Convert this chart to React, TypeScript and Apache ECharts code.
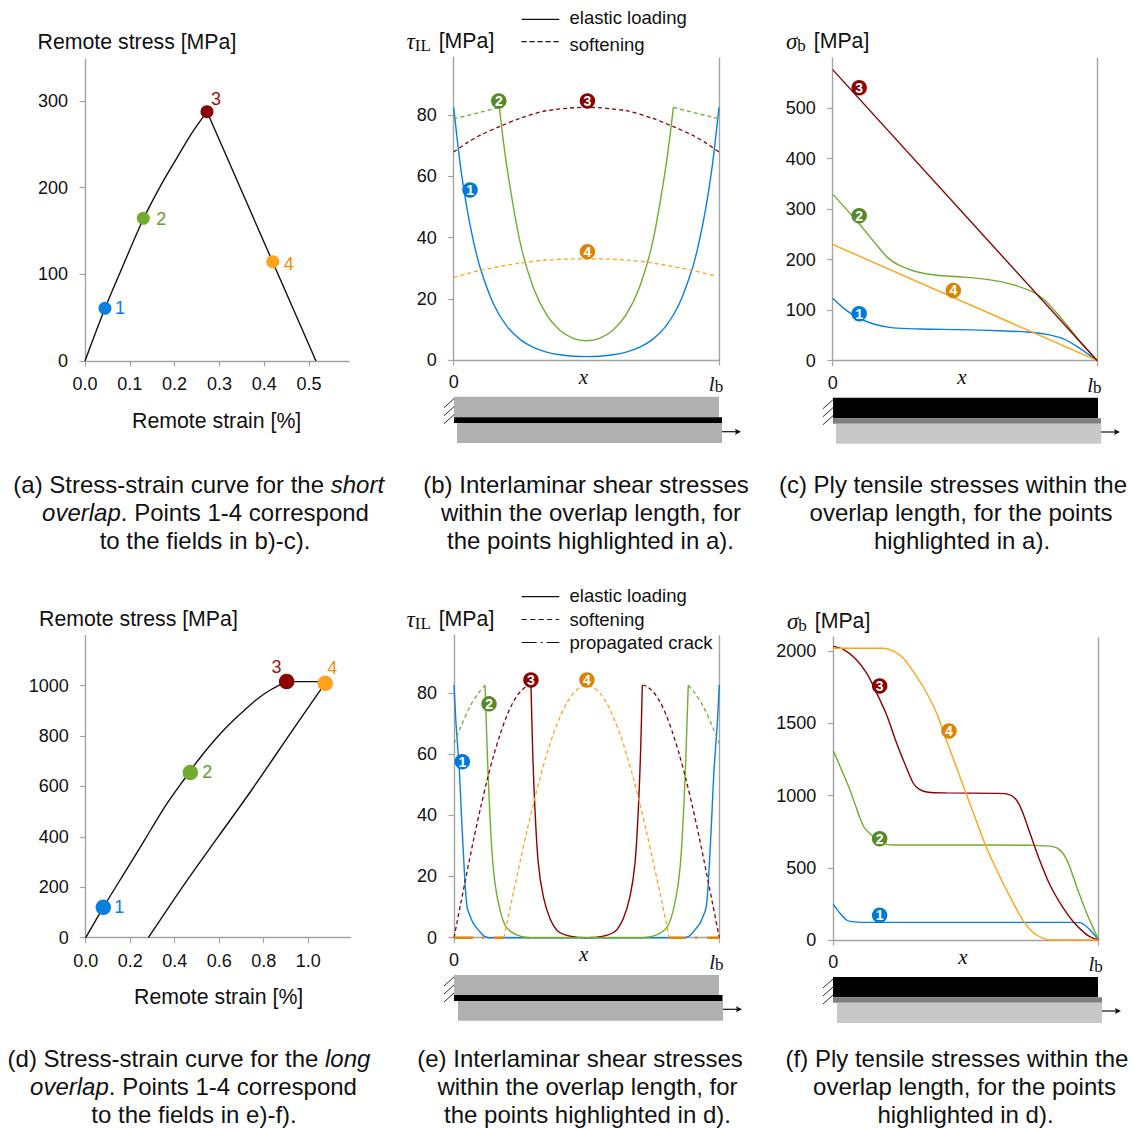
import React, { useEffect, useRef } from "react";
import * as echarts from "echarts";

const BLUE = "#0a80dc";
const GREEN = "#70ad2f";
const RED = "#8b0000";
const ORANGE = "#ffa31a";
const BADGE = ["#0078d7", "#558a26", "#8b0000", "#dc8400"];
const TEXT_COL = ["#0a80dc", "#5f9e2f", "#a01010", "#e8900c"];
const AXIS = "#a3a3a3";
const SANS = "'Liberation Sans', Arial, sans-serif";
const SERIF = "'Liberation Serif', serif";

// Panel (a)
const aUp = [[0, 0], [0.0446, 60.8], [0.0855, 110.8], [0.1302, 163.8], [0.1674, 201], [0.2046, 233.9], [0.2381, 262.7], [0.2723, 287.7]];
const aDown = [[0.2723, 287.7], [0.5156, 0]];
const aPoints = [[0.0446, 60.8], [0.1302, 164.6], [0.2723, 287.7], [0.419, 114.6]];
// Panel (d)
const dLoad = [[0, 0], [0.0792, 120.6], [0.1916, 281.8], [0.2664, 390], [0.3562, 520], [0.446, 632.4], [0.506, 705], [0.5957, 800], [0.6855, 880], [0.7754, 950], [0.8354, 985.6], [0.9028, 1016]];
const dFlat = [[0.9028, 1016], [1.0765, 1016]];
const dUnload = [[0.2813, 0], [0.4462, 215.8], [0.5957, 400.8], [0.7457, 586], [0.9253, 817.6], [1.0449, 970], [1.0765, 1009]];
const dPoints = [[0.0792, 120.6], [0.47, 655], [0.9028, 1016], [1.0765, 1009]];

// Panel (b)
const b1 = [[0, 82.6], [0.025, 63.7], [0.05, 49.6], [0.075, 38.6], [0.1, 30.1], [0.15, 18.3], [0.2, 11.1], [0.25, 6.75], [0.3, 4.14], [0.35, 2.59], [0.4, 1.7], [0.45, 1.24], [0.5, 1.1], [0.55, 1.24], [0.6, 1.7], [0.65, 2.59], [0.7, 4.14], [0.75, 6.75], [0.8, 11.1], [0.85, 18.3], [0.9, 30.1], [0.925, 38.6], [0.95, 49.6], [0.975, 63.7], [1, 82.6]];
const b2Solid = [[0.172, 82.6], [0.2, 63.4], [0.25, 38.6], [0.3, 23.7], [0.35, 14.8], [0.4, 9.7], [0.45, 7.1], [0.5, 6.3], [0.55, 7.1], [0.6, 9.7], [0.65, 14.8], [0.7, 23.7], [0.75, 38.6], [0.8, 63.4], [0.828, 82.6]];
const b2DashL = [[0, 78.8], [0.172, 82.6]];
const b2DashR = [[0.828, 82.6], [1, 78.8]];
const b3 = [[0, 68], [0.05, 71], [0.1, 73.5], [0.172, 76.3], [0.25, 79], [0.35, 81.5], [0.5, 82.6], [0.65, 81.5], [0.75, 79], [0.828, 76.3], [0.9, 73.5], [0.95, 71], [1, 68]];
const b4 = [[0, 27], [0.1, 29.3], [0.25, 31.7], [0.35, 32.7], [0.5, 33.1], [0.65, 32.7], [0.75, 31.7], [0.9, 29.3], [0.985, 27.5]];
const bBadges = [[0.0616, 55.6], [0.17, 84.7], [0.504, 84.7], [0.504, 35.4]];

// Panel (c)
const c1 = [[0, 123.5], [0.053, 99], [0.1, 84], [0.154, 72.7], [0.229, 65], [0.33, 62.7], [0.481, 61.4], [0.632, 59.4], [0.733, 56.8], [0.809, 52], [0.872, 43], [0.935, 24], [1, 0]];
const c2 = [[0, 329.6], [0.1, 271], [0.166, 229], [0.21, 203], [0.254, 188], [0.317, 176], [0.393, 169], [0.481, 166], [0.582, 161], [0.67, 152], [0.752, 137], [0.796, 122], [0.859, 87], [0.935, 38], [1, 0]];
const c3 = [[0, 576], [1, 0]];
const c4 = [[0, 230], [1, 0]];
const cBadges = [[0.1, 93], [0.1, 287], [0.1, 540], [0.456, 139]];

// Panel (e)
const e1 = [[0, 82.6], [0.0075, 70], [0.0201, 54.8], [0.0289, 38.5], [0.0415, 17.8], [0.0503, 9.6], [0.0729, 4.7], [0.1105, 0.7], [0.13, 0], [0.87, 0], [0.8895, 0.7], [0.9271, 4.7], [0.9497, 9.6], [0.9585, 17.8], [0.9711, 38.5], [0.9799, 54.8], [0.9925, 70], [1, 82.6]];
const e2Solid = [[0.1169, 82.5], [0.1231, 66.8], [0.1294, 51.5], [0.1419, 29.7], [0.1545, 17.8], [0.1734, 9], [0.196, 3.6], [0.236, 0.9], [0.2865, 0], [0.7135, 0], [0.764, 0.9], [0.804, 3.6], [0.8266, 9], [0.8455, 17.8], [0.8581, 29.7], [0.8706, 51.5], [0.8769, 66.8], [0.8831, 82.5]];
const e2DashL = [[0, 63.5], [0.023, 68.4], [0.06, 75.5], [0.092, 79.9], [0.1169, 82.5]];
const e2DashR = [[0.8831, 82.5], [0.908, 79.9], [0.94, 75.5], [0.977, 68.4], [1, 63.5]];
const e3DashL = [[0, 0], [0.025, 11], [0.05, 21.9], [0.075, 32.5], [0.1, 42.4], [0.125, 51.5], [0.15, 59.7], [0.175, 66.7], [0.2, 72.7], [0.225, 77.3], [0.25, 80.4], [0.275, 82.2], [0.2902, 82.5]];
const e3Solid = [[0.2902, 82.5], [0.2965, 61.3], [0.3053, 41.7], [0.3178, 24.3], [0.3367, 13.4], [0.3618, 6.3], [0.3932, 2], [0.4372, 0.5], [0.5, 0], [0.5628, 0.5], [0.6068, 2], [0.6382, 6.3], [0.6633, 13.4], [0.6822, 24.3], [0.6947, 41.7], [0.7035, 61.3], [0.7098, 82.5]];
const e3DashR = [[0.7098, 82.5], [0.725, 82.2], [0.75, 80.4], [0.775, 77.3], [0.8, 72.7], [0.825, 66.7], [0.85, 59.7], [0.875, 51.5], [0.9, 42.4], [0.925, 32.5], [0.95, 21.9], [0.975, 11], [1, 0]];
const e4Dash = [[0.1884, 0], [0.2, 4.9], [0.225, 15.2], [0.25, 25.2], [0.275, 34.9], [0.3, 44], [0.325, 52.4], [0.35, 60], [0.375, 66.7], [0.4, 72.2], [0.425, 76.7], [0.45, 79.9], [0.475, 81.8], [0.5, 82.5], [0.525, 81.8], [0.55, 79.9], [0.575, 76.7], [0.6, 72.2], [0.625, 66.7], [0.65, 60], [0.675, 52.4], [0.7, 44], [0.725, 34.9], [0.75, 25.2], [0.775, 15.2], [0.8, 4.9], [0.8116, 0]];
const e4CrackL = [[0, 0], [0.1884, 0]];
const e4CrackR = [[1, 0], [0.8116, 0]];
const eBadges = [[0.0314, 57.5], [0.132, 76.4], [0.29, 84.2], [0.501, 84.2]];

// Panel (f)
const f1 = [[0, 247], [0.025, 185], [0.05, 138.6], [0.0692, 127], [0.1132, 122], [0.5, 122], [0.892, 122], [0.9296, 120], [0.9548, 92], [0.9737, 57.6], [1, 0]];
const f2 = [[0, 1310], [0.0629, 1039.5], [0.1132, 790], [0.151, 716], [0.1885, 670], [0.226, 658], [0.5, 658], [0.741, 656], [0.829, 646.6], [0.8605, 612], [0.8857, 531], [0.917, 369], [0.9548, 185], [1, 0]];
const f3 = [[0, 2034], [0.0377, 2014], [0.0818, 1952], [0.1257, 1848], [0.1634, 1710], [0.201, 1559], [0.2388, 1363], [0.2764, 1190], [0.3016, 1086], [0.324, 1044], [0.358, 1023.5], [0.4272, 1019], [0.6156, 1016], [0.653, 1012], [0.6846, 982], [0.7098, 901], [0.7412, 739], [0.7725, 577], [0.8165, 381], [0.8667, 220], [0.9043, 127], [0.9484, 46], [0.9735, 16], [1, 0]];
const f4 = [[0, 2021], [0.1884, 2021], [0.226, 2003], [0.2639, 1952], [0.3016, 1859], [0.3456, 1732], [0.3895, 1571], [0.4209, 1409], [0.4585, 1224], [0.4962, 1035], [0.5339, 850], [0.5715, 665], [0.6155, 485], [0.6657, 300], [0.7135, 140], [0.7537, 50], [0.7913, 11.6], [0.823, 0], [1, 0]];
const fBadges = [[0.1746, 171], [0.1746, 702], [0.1746, 1760], [0.436, 1448]];

const aXTicks = [0, 0.1, 0.2, 0.3, 0.4, 0.5];
const aYTicks = [0, 100, 200, 300];
const dXTicks = [0, 0.2, 0.4, 0.6, 0.8, 1.0];
const dYTicks = [0, 200, 400, 600, 800, 1000];
const shearTicks = [0, 20, 40, 60, 80];
const cYTicks = [0, 100, 200, 300, 400, 500];
const fYTicks = [0, 500, 1000, 1500, 2000];

const captionLines = [
  { x: 198.7, y: 484.4, t: "(a) Stress-strain curve for the {i|short}" },
  { x: 205.5, y: 512.7, t: "{i|overlap}. Points 1-4 correspond" },
  { x: 205, y: 540, t: "to the fields in b)-c)." },
  { x: 586, y: 484.4, t: "(b) Interlaminar shear stresses" },
  { x: 591, y: 512.7, t: "within the overlap length, for" },
  { x: 590.5, y: 540, t: "the points highlighted in a)." },
  { x: 953, y: 484.4, t: "(c) Ply tensile stresses within the" },
  { x: 961, y: 512.7, t: "overlap length, for the points" },
  { x: 962, y: 540, t: "highlighted in a)." },
  { x: 189, y: 1058.4, t: "(d) Stress-strain curve for the {i|long}" },
  { x: 193.5, y: 1086.7, t: "{i|overlap}. Points 1-4 correspond" },
  { x: 194, y: 1114, t: "to the fields in e)-f)." },
  { x: 580, y: 1058.4, t: "(e) Interlaminar shear stresses" },
  { x: 587.5, y: 1086.7, t: "within the overlap length, for" },
  { x: 587.5, y: 1114, t: "the points highlighted in d)." },
  { x: 957, y: 1058.4, t: "(f) Ply tensile stresses within the" },
  { x: 964.5, y: 1086.7, t: "overlap length, for the points" },
  { x: 965.5, y: 1114, t: "highlighted in d)." },
];

const grids = [
  { left: 85, top: 59, width: 264, height: 302 },
  { left: 453.7, top: 57.5, width: 265.3, height: 302.5 },
  { left: 832.7, top: 58, width: 264.6, height: 302.7 },
  { left: 85.7, top: 635.7, width: 264.6, height: 302 },
  { left: 454, top: 635.3, width: 265.3, height: 302.4 },
  { left: 833.3, top: 637.3, width: 265.4, height: 302.7 },
];

const axisLine = { show: true, lineStyle: { color: AXIS, width: 1.4 } };
const tick = { show: true, length: 5.5, inside: false, lineStyle: { color: AXIS, width: 1.2 } };

function strainAxis(i: number, max: number, ticks: number[], interval: number) {
  return {
    type: "value", gridIndex: i, min: 0, max, interval,
    axisLine: { ...axisLine, onZero: false }, splitLine: { show: false },
    axisTick: { ...tick, customValues: ticks },
    axisLabel: { customValues: ticks, margin: 14, fontSize: 18, fontFamily: SANS, color: "#111", formatter: (v: number) => v.toFixed(1) },
  };
}
function fieldAxis(i: number) {
  return {
    type: "value", gridIndex: i, min: 0, max: 1, interval: 1,
    name: "x", nameLocation: "middle", nameGap: 6, nameMoveOverlap: false,
    nameTextStyle: { fontFamily: SERIF, fontStyle: "italic", fontSize: 21, color: "#111", padding: [0, 6, 0, 0] },
    axisLine: { ...axisLine, onZero: false },
    axisTick: tick,
    splitLine: { show: true, showMinLine: false, lineStyle: { color: AXIS, width: 1.4 } },
    axisLabel: {
      margin: 13, fontSize: 18, fontFamily: SANS, color: "#111", hideOverlap: false,
      formatter: (v: number) => (v === 0 ? "0" : "{l|l}{b|b}"),
      rich: {
        l: { fontFamily: SERIF, fontStyle: "italic", fontSize: 21, color: "#111" },
        b: { fontFamily: SERIF, fontSize: 17, color: "#111", padding: [5, 6, 0, 0] },
      },
    },
  };
}
function yAx(i: number, max: number, ticks: number[], interval: number) {
  return {
    type: "value", gridIndex: i, min: 0, max, interval,
    axisLine: { ...axisLine, onZero: false }, splitLine: { show: false },
    axisTick: { ...tick, customValues: ticks },
    axisLabel: { customValues: ticks, margin: 17, fontSize: 18, fontFamily: SANS, color: "#111", formatter: (v: number) => String(v) },
  };
}

function line(i: number, data: number[][], color: string, dashed = false, extra: any = {}) {
  return {
    type: "line", xAxisIndex: i, yAxisIndex: i, data, symbol: "none", clip: false, silent: true,
    smooth: 0.3, z: 3,
    lineStyle: { color, width: dashed ? 1.3 : 1.4, type: dashed ? [4, 3] : "solid" },
    ...extra,
  };
}
const straight = { smooth: false };

function badges(i: number, pts: number[][]) {
  return {
    type: "scatter", xAxisIndex: i, yAxisIndex: i, symbolSize: 15.5, clip: false, silent: true, z: 6,
    data: pts.map((p, k) => ({
      value: p, itemStyle: { color: BADGE[k], opacity: 1 },
      label: { show: true, position: "inside", formatter: String(k + 1), color: "#fff", fontSize: 14, fontWeight: "bold", fontFamily: SANS },
    })),
  };
}
function dots(i: number, pts: number[][], size: number, offs: number[][]) {
  const cols = [BLUE, GREEN, RED, ORANGE];
  return {
    type: "scatter", xAxisIndex: i, yAxisIndex: i, symbolSize: size, clip: false, silent: true, z: 6,
    data: pts.map((p, k) => ({
      value: p, itemStyle: { color: cols[k], opacity: 1 },
      label: { show: true, position: "inside", offset: offs[k], formatter: String(k + 1), color: TEXT_COL[k], fontSize: 18, fontFamily: SANS },
    })),
  };
}

function txt(x: number, y: number, text: string, size = 21.3, extra: any = {}) {
  return { type: "text", x, y, silent: true, style: { text, fontSize: size, fontFamily: SANS, fill: "#111", align: "left", verticalAlign: "middle", ...extra } };
}
const symRich = {
  g: { fontFamily: SERIF, fontStyle: "italic", fontSize: 23, fill: "#111", color: "#111" },
  s: { fontFamily: SERIF, fontSize: 17, fill: "#111", color: "#111", padding: [8, 2, 0, 0] },
  t: { fontFamily: SANS, fontSize: 21.3, fill: "#111", color: "#111" },
};
function seg(x1: number, y1: number, x2: number, y2: number, dash?: number[], w = 1.2) {
  return { type: "line", silent: true, shape: { x1, y1, x2, y2 }, style: { stroke: "#111", lineWidth: w, lineDash: dash } };
}
function rect(x: number, y: number, w: number, h: number, fill: string) {
  return { type: "rect", silent: true, shape: { x, y, width: w, height: h }, style: { fill } };
}
function arrow(x: number, y: number) {
  return [seg(x, y, x + 17, y), { type: "polygon", silent: true, shape: { points: [[x + 19, y], [x + 13, y - 3], [x + 14, y], [x + 13, y + 3]] }, style: { fill: "#111" } }];
}
function hatch(x: number, y: number) {
  return [seg(x - 10, y + 11, x, y + 2, undefined, 0.9), seg(x - 10, y + 19, x, y + 10, undefined, 0.9), seg(x - 10, y + 27, x, y + 18, undefined, 0.9)];
}

const graphics: any[] = [
  txt(37.5, 42, "Remote stress [MPa]"),
  txt(39, 619, "Remote stress [MPa]"),
  txt(132, 420.5, "Remote strain [%]"),
  txt(134, 997, "Remote strain [%]"),
  txt(406.5, 41, "{g|τ}{s|IL} {t|[MPa]}", 21.3, { rich: symRich }),
  txt(406.5, 619, "{g|τ}{s|IL} {t|[MPa]}", 21.3, { rich: symRich }),
  txt(786, 41, "{g|σ}{s|b} {t|[MPa]}", 21.3, { rich: symRich }),
  txt(787, 621, "{g|σ}{s|b} {t|[MPa]}", 21.3, { rich: symRich }),
  // legends
  seg(521.7, 19.3, 559.3, 19.3),
  seg(521.7, 41.7, 559.3, 41.7, [5, 3]),
  txt(569.5, 17.5, "elastic loading", 18.5),
  txt(569.5, 44, "softening", 18.5),
  seg(521.7, 596.7, 559.3, 596.7),
  seg(521.7, 619.5, 559.3, 619.5, [5, 3.5]),
  seg(521.7, 642.5, 559.3, 642.5, [15, 4, 2, 4]),
  txt(569.5, 595.5, "elastic loading", 18.5),
  txt(569.5, 619, "softening", 18.5),
  txt(569.5, 642.5, "propagated crack", 18.5),
  // schematics
  rect(454, 396.7, 265, 20.6, "#b0b0b0"),
  rect(457, 423, 265, 20, "#b0b0b0"),
  rect(454, 417.3, 268, 5.7, "#000"),
  ...hatch(454, 396.7), ...arrow(722, 431.7),
  rect(833, 397.7, 265, 20.6, "#000"),
  rect(833, 418.3, 268, 5.4, "#7f7f7f"),
  rect(836, 423.7, 265, 20, "#c8c8c8"),
  ...hatch(833, 397.7), ...arrow(1101, 432),
  rect(454, 975, 265, 20, "#b0b0b0"),
  rect(458, 1001, 265, 19.7, "#b0b0b0"),
  rect(454, 995, 268.5, 6, "#000"),
  ...hatch(454, 975), ...arrow(723, 1009.3),
  rect(833, 977, 265, 20.3, "#000"),
  rect(833, 997.3, 269, 5.4, "#7f7f7f"),
  rect(837, 1002.7, 265, 20.3, "#c8c8c8"),
  ...hatch(833, 977), ...arrow(1102, 1011),
  // captions
  ...captionLines.map((c) => ({
    type: "text", x: c.x, y: c.y, silent: true,
    style: {
      text: c.t, fontSize: 24, fontFamily: SANS, fill: "#111", align: "center", verticalAlign: "middle",
      rich: { i: { fontStyle: "italic", fontSize: 24, fontFamily: SANS, fill: "#111", color: "#111" } },
    },
  })),
];

const option: any = {
  animation: false,
  backgroundColor: "#fff",
  grid: grids,
  xAxis: [strainAxis(0, 0.5893, aXTicks, 0.1), fieldAxis(1), fieldAxis(2), strainAxis(3, 1.189, dXTicks, 0.2), fieldAxis(4), fieldAxis(5)],
  yAxis: [yAx(0, 348.5, aYTicks, 100), yAx(1, 98.9, shearTicks, 20), yAx(2, 599, cYTicks, 100), yAx(3, 1198, dYTicks, 200), yAx(4, 98.8, shearTicks, 20), yAx(5, 2097, fYTicks, 500)],
  series: [
    line(0, aUp, "#111"),
    line(0, aDown, "#111", false, straight),
    dots(0, aPoints, 13, [[15, 0], [18, 1], [9, -13], [16, 2]]),

    line(1, b1, BLUE),
    line(1, b2Solid, GREEN),
    line(1, b2DashL, GREEN, true, straight),
    line(1, b2DashR, GREEN, true, straight),
    line(1, b3, RED, true),
    line(1, b4, ORANGE, true),
    badges(1, bBadges),

    line(2, c1, BLUE),
    line(2, c2, GREEN),
    line(2, c4, ORANGE, false, straight),
    line(2, c3, RED, false, straight),
    badges(2, cBadges),

    line(3, dLoad, "#111"),
    line(3, dFlat, "#111", false, straight),
    line(3, dUnload, "#111"),
    dots(3, dPoints, 15.5, [[16, 0], [17, -1], [-10, -15], [7, -15]]),

    line(4, e1, BLUE, false, { smooth: 0.15 }),
    line(4, e3Solid, RED),
    line(4, e2Solid, GREEN),
    line(4, e2DashL, GREEN, true),
    line(4, e2DashR, GREEN, true),
    line(4, e3DashL, RED, true),
    line(4, e3DashR, RED, true),
    line(4, e4Dash, ORANGE, true),
    { ...line(4, e4CrackL, "#e08600", false, straight), lineStyle: { color: "#e08600", width: 2.4, type: [19, 9, 2, 10] } },
    { ...line(4, e4CrackR, "#e08600", false, straight), lineStyle: { color: "#e08600", width: 2.4, type: [12, 10, 2, 10, 17, 30] } },
    badges(4, eBadges),

    line(5, f1, BLUE),
    line(5, f2, GREEN),
    line(5, f3, RED),
    line(5, f4, ORANGE),
    badges(5, fBadges),
  ],
  graphic: { elements: graphics },
};

export default function App() {
  const ref = useRef<HTMLDivElement>(null);
  useEffect(() => {
    document.body.style.margin = "0";
    const chart = echarts.init(ref.current!, undefined, { renderer: "svg" });
    chart.setOption(option);
    return () => chart.dispose();
  }, []);
  return <div ref={ref} style={{ width: 1134, height: 1128, position: "absolute", left: 0, top: 0 }} />;
}
